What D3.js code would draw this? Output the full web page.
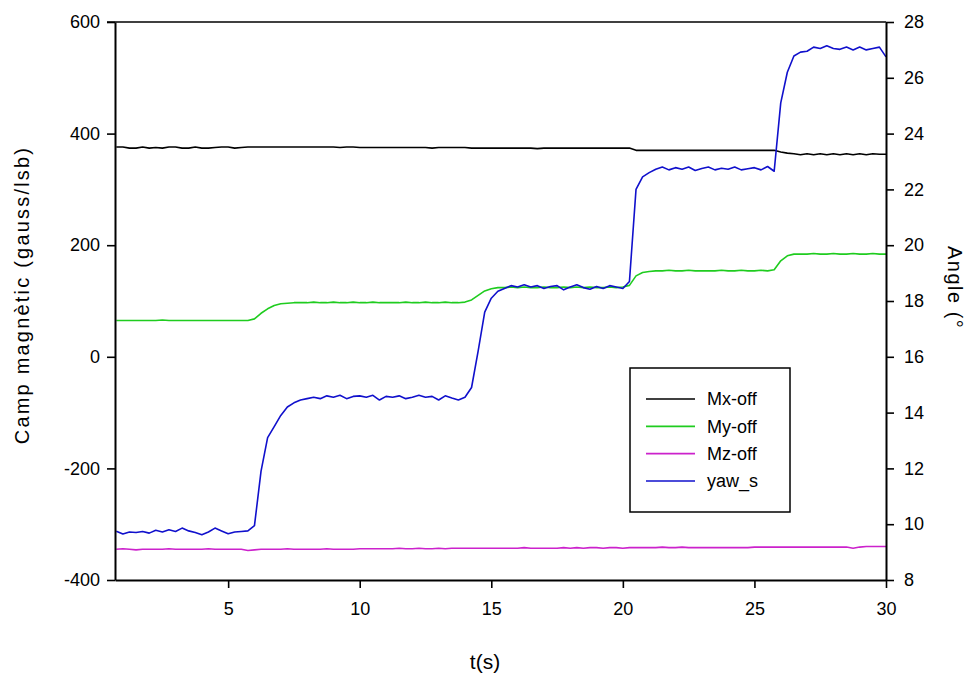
<!DOCTYPE html>
<html>
<head>
<meta charset="utf-8">
<script src="https://cdn.jsdelivr.net/npm/d3@7"></script>
<style>
  html, body { margin: 0; padding: 0; background: #fff; }
  svg { display: block; }
  text { font-family: "Liberation Sans", Arial, sans-serif; fill: #000; }
</style>
</head>
<body>
<svg id="chart" width="968" height="678"></svg>
<script>
// ---- data ----
const time = [0.75,
  1,1.25,1.5,1.75, 2,2.25,2.5,2.75, 3,3.25,3.5,3.75, 4,4.25,4.5,4.75, 5,5.25,5.5,5.75,
  6,6.25,6.5,6.75, 7,7.25,7.5,7.75, 8,8.25,8.5,8.75, 9,9.25,9.5,9.75, 10,10.25,10.5,10.75,
  11,11.25,11.5,11.75, 12,12.25,12.5,12.75, 13,13.25,13.5,13.75, 14,14.25,14.5,14.75,
  15,15.25,15.5,15.75, 16,16.25,16.5,16.75, 17,17.25,17.5,17.75, 18,18.25,18.5,18.75,
  19,19.25,19.5,19.75, 20,20.25,20.5,20.75, 21,21.25,21.5,21.75, 22,22.25,22.5,22.75,
  23,23.25,23.5,23.75, 24,24.25,24.5,24.75, 25,25.25,25.5,25.75, 26,26.25,26.5,26.75,
  27,27.25,27.5,27.75, 28,28.25,28.5,28.75, 29,29.25,29.5,29.75, 30];

const mxOff = [376,
  376,374,374,376, 374,375,374,376, 376,374,374,376, 374,374,375,376, 376,374,375,376,
  376,376,376,376, 376,376,376,376, 376,376,376,376, 376,375,376,376, 375,375,375,375,
  375,375,375,375, 375,375,375,374, 375,375,375,375, 375,374,374,374,
  374,374,374,374, 374,374,374,373, 374,374,374,374, 374,374,374,374,
  374,374,374,374, 374,374,370,370, 370,370,370,370, 370,370,370,370,
  370,370,370,370, 370,370,370,370, 370,370,370,370, 367,365,364,362,
  364,362,364,362, 364,362,364,362, 364,362,364,363, 363];

const myOff = [65,
  65,65,65,65, 65,65,66,65, 65,65,65,65, 65,65,65,65, 65,65,65,65,
  68,78,86,92, 95,96,97,97, 97,98,97,97, 98,97,97,98, 97,97,98,97,
  97,97,97,98, 97,97,98,97, 97,98,97,97, 98,102,110,118,
  122,124,124,125, 124,125,124,124, 125,124,124,125, 124,125,124,125,
  124,124,125,124, 125,128,145,151, 153,154,154,155, 154,154,155,154,
  154,154,154,155, 154,154,155,154, 154,155,154,156, 172,181,184,184,
  184,185,184,184, 185,184,184,185, 184,184,185,184, 184];

const mzOff = [-345,
  -344,-345,-346,-345, -345,-345,-345,-344, -345,-345,-345,-345, -345,-344,-345,-345, -345,-345,-345,-347,
  -346,-345,-345,-345, -345,-344,-345,-345, -345,-345,-345,-344, -345,-345,-345,-345, -344,-344,-344,-344,
  -344,-344,-343,-344, -344,-343,-344,-344, -343,-344,-343,-343, -343,-343,-343,-343,
  -343,-343,-343,-343, -343,-342,-343,-343, -343,-343,-343,-342, -343,-342,-343,-342,
  -342,-343,-342,-342, -343,-342,-342,-342, -342,-342,-341,-342, -342,-341,-342,-342,
  -342,-342,-342,-342, -342,-342,-342,-342, -341,-341,-341,-341, -341,-341,-341,-341,
  -341,-341,-341,-341, -341,-341,-341,-343, -341,-340,-340,-340, -340];

const yawS = [9.75,
  9.65,9.72,9.70,9.74, 9.68,9.78,9.72,9.80, 9.74,9.86,9.76,9.70, 9.62,9.72,9.86,9.76, 9.66,9.72,9.74,9.76,
  9.95,11.9,13.1,13.5, 13.9,14.2,14.35,14.45, 14.5,14.55,14.5,14.6, 14.55,14.62,14.5,14.58, 14.6,14.55,14.62,14.45,
  14.58,14.55,14.6,14.5, 14.55,14.62,14.55,14.58, 14.45,14.6,14.52,14.45, 14.55,14.9,16.2,17.6,
  18.1,18.35,18.45,18.55, 18.5,18.58,18.5,18.55, 18.45,18.52,18.55,18.4, 18.5,18.58,18.48,18.42,
  18.52,18.45,18.55,18.5, 18.45,18.7,22.0,22.45, 22.6,22.72,22.8,22.7, 22.78,22.72,22.8,22.68,
  22.75,22.8,22.7,22.76, 22.72,22.8,22.7,22.74, 22.78,22.7,22.82,22.65, 25.1,26.2,26.78,26.92,
  26.95,27.1,27.05,27.15, 27.05,27.02,27.1,27.0, 27.1,27.0,27.05,27.1, 26.75];

const seriesNames = ["Mx-off", "My-off", "Mz-off", "yaw_s"];
const seriesColors = ["#000000", "#1fcc1f", "#cc22cc", "#1010cc"];
const xTicks = [5, 10, 15, 20, 25, 30];
const leftTicks = [-400, -200, 0, 200, 400, 600];
const rightTicks = [8, 10, 12, 14, 16, 18, 20, 22, 24, 26, 28];

// ---- layout ----
const L = 115, R = 886, T = 22, B = 580;
const svg = d3.select("#chart");

const x = d3.scaleLinear().domain([0.7, 30]).range([L, R]);
const yL = d3.scaleLinear().domain([-400, 600]).range([B, T]);
const yR = d3.scaleLinear().domain([8, 28]).range([B, T]);

// lines
const series = [
  { name: seriesNames[0], color: seriesColors[0], vals: mxOff, y: yL },
  { name: seriesNames[1], color: seriesColors[1], vals: myOff, y: yL },
  { name: seriesNames[2], color: seriesColors[2], vals: mzOff, y: yL },
  { name: seriesNames[3], color: seriesColors[3], vals: yawS, y: yR }
];

const plot = svg.append("g");
series.forEach(s => {
  const line = d3.line()
    .x((d, i) => x(time[i]))
    .y(d => s.y(d));
  plot.append("path")
    .datum(s.vals)
    .attr("fill", "none")
    .attr("stroke", s.color)
    .attr("stroke-width", 1.6)
    .attr("stroke-linejoin", "round")
    .attr("d", line);
});

// frame top line
svg.append("line").attr("x1", L - 8).attr("x2", R).attr("y1", T).attr("y2", T)
  .attr("stroke", "#000").attr("stroke-width", 1.6);

const fmt = d => String(d);
function styleAxis(g) {
  g.selectAll("path.domain").attr("stroke", "#000").attr("stroke-width", 2);
  g.selectAll(".tick line").attr("stroke", "#000").attr("stroke-width", 1.6);
  g.selectAll(".tick text").style("font-family", "'Liberation Sans', Arial, sans-serif")
    .style("font-size", "18px").attr("fill", "#000");
}

svg.append("g").attr("transform", `translate(${L},0)`)
  .call(d3.axisLeft(yL).tickValues(leftTicks).tickFormat(fmt).tickSize(8).tickSizeOuter(0).tickPadding(7))
  .call(styleAxis);

svg.append("g").attr("transform", `translate(${R},0)`)
  .call(d3.axisRight(yR).tickValues(rightTicks).tickFormat(fmt).tickSize(8).tickSizeOuter(0).tickPadding(10))
  .call(styleAxis);

svg.append("g").attr("transform", `translate(0,${B})`)
  .call(d3.axisBottom(x).tickValues(xTicks).tickFormat(fmt).tickSize(8).tickSizeOuter(0).tickPadding(14))
  .call(styleAxis);

// axis titles
svg.append("text")
  .attr("transform", "translate(29,295) rotate(-90)")
  .attr("text-anchor", "middle")
  .style("font-size", "20px")
  .style("letter-spacing", "2.2px")
  .text("Camp magnètic (gauss/lsb)");

svg.append("text")
  .attr("transform", "translate(948,246) rotate(90)")
  .attr("text-anchor", "start")
  .style("font-size", "20px")
  .style("letter-spacing", "1.5px")
  .text("Angle (°");

svg.append("text")
  .attr("x", 485).attr("y", 669)
  .attr("text-anchor", "middle")
  .style("font-size", "21px")
  .text("t(s)");

// legend
const lg = svg.append("g");
lg.append("rect").attr("x", 630).attr("y", 368).attr("width", 160).attr("height", 144)
  .attr("fill", "#fff").attr("stroke", "#000").attr("stroke-width", 1.5);
const rowY = d3.scaleLinear().domain([0, 3]).range([399, 481]);
series.forEach((s, i) => {
  lg.append("line").attr("x1", 646).attr("x2", 695)
    .attr("y1", rowY(i)).attr("y2", rowY(i))
    .attr("stroke", s.color).attr("stroke-width", 1.6);
  lg.append("text").attr("x", 707).attr("y", rowY(i)).attr("dy", "0.35em")
    .style("font-size", "18px")
    .text(s.name);
});
</script>
</body>
</html>
